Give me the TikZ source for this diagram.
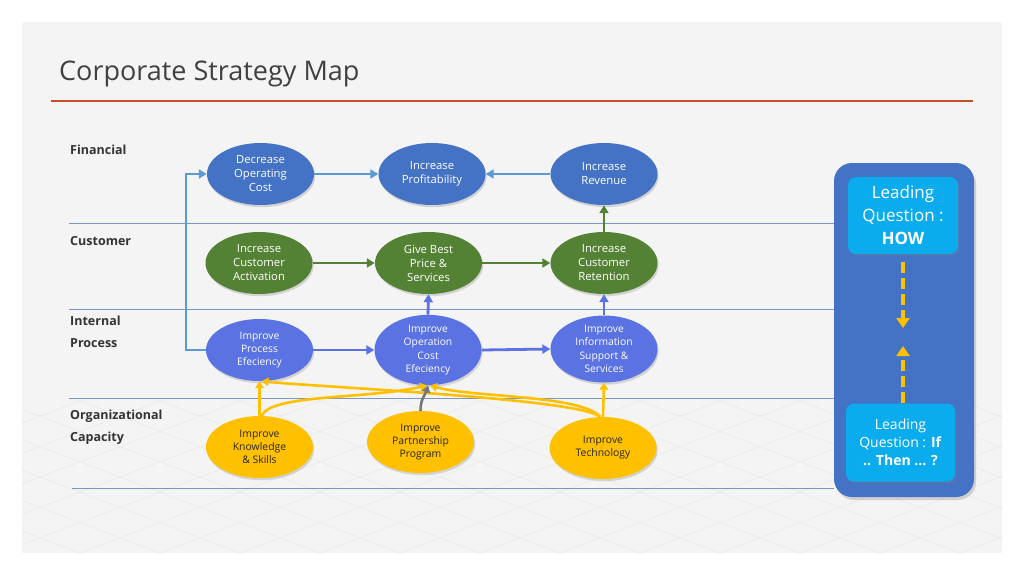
\documentclass[tikz,border=0pt]{standalone}
\usepackage{fontspec}
\setmainfont{Open Sans}
\usetikzlibrary{shapes.geometric,arrows.meta,shadows,calc}
\definecolor{slidebg}{HTML}{F4F4F4}
\definecolor{titlegray}{HTML}{404040}
\definecolor{labelgray}{HTML}{333333}
\definecolor{redline}{RGB}{200,78,42}
\definecolor{sepline}{RGB}{125,150,195}
\definecolor{finblue}{HTML}{4472C4}
\definecolor{finarrow}{HTML}{5B9BD5}
\definecolor{cusgreen}{HTML}{548235}
\definecolor{intblue}{RGB}{90,114,226}
\definecolor{orgyellow}{HTML}{FFC000}
\definecolor{textdark}{HTML}{262626}
\definecolor{grayarrow}{HTML}{767676}
\definecolor{panelblue}{HTML}{4472C4}
\definecolor{qblue}{RGB}{10,172,238}
\begin{document}
\begin{tikzpicture}[x=1pt,y=-1pt,
  ell/.style={ellipse, minimum width=107pt, minimum height=62pt, inner sep=0pt, align=center,
    drop shadow={shadow xshift=1.2pt, shadow yshift=-2.2pt, opacity=0.28}},
  fin/.style={ell, fill=finblue, text=white, font=\fontsize{11.3}{14}\selectfont},
  cus/.style={ell, fill=cusgreen, text=white, font=\fontsize{11.3}{14}\selectfont},
  int/.style={ell, fill=intblue, text=white, font=\fontsize{10.3}{13.3}\selectfont},
  org/.style={ell, fill=orgyellow, text=textdark, font=\fontsize{10.4}{13}\selectfont},
  rowlabel/.style={anchor=base west, inner sep=0pt, text=labelgray, font=\bfseries\fontsize{12.5}{15}\selectfont},
  sep/.style={draw=sepline, line width=0.9pt},
  arrfin/.style={draw=finarrow, line width=2.8pt, -{Triangle[length=8pt,width=9pt]}},
  arrcus/.style={draw=cusgreen, line width=2.8pt, -{Triangle[length=8pt,width=9pt]}},
  arrint/.style={draw=intblue, line width=2.8pt, -{Triangle[length=8pt,width=9pt]}},
  arrorg/.style={draw=orgyellow, line width=2.6pt, -{Triangle[length=7pt,width=8.5pt]}},
  arrgray/.style={draw=grayarrow, line width=2.6pt, -{Triangle[length=7pt,width=8.5pt]}},
  dasharr/.style={draw=orgyellow, line width=4pt, dash pattern=on 11pt off 5pt, -{Triangle[length=10pt,width=13pt]}},
  qbox/.style={rounded corners=8pt, fill=qblue, text=white, align=center, inner sep=0pt,
    drop shadow={shadow xshift=1.5pt, shadow yshift=-2pt, opacity=0.3}},
  gridline/.style={draw=black!8, line width=0.8pt}
]
\useasboundingbox (0,0) rectangle (1024,576);
\fill[white] (0,0) rectangle (1024,576);
\fill[slidebg] (22,22) rectangle (1002,553);

% faint floor grid
\begin{scope}
  \clip (22,400) rectangle (1002,553);
  \foreach \k in {-12,...,26} {
    \draw[gridline] ({\k*80-400},553) -- ++(800,-304);
    \draw[gridline] ({\k*80},553) -- ++(-800,-304);
  }
\end{scope}

% title and rule
\node[anchor=base west, inner sep=0pt, text=titlegray, font=\fontsize{27}{31}\selectfont] (title) at (59,80) {Corporate Strategy Map};
\draw[draw=redline, line width=2pt] (51,101) -- (973,101);

% separators
\draw[sep] (69,223) -- (834,223);
\draw[sep] (69,309) -- (834,309);
\draw[sep] (69,398) -- (834,398);
\draw[sep] (72,488) -- (834,488);

% row labels
\node[rowlabel] (lfin) at (70,154) {Financial};
\node[rowlabel] (lcus) at (70,245) {Customer};
\node[rowlabel] (lint1) at (70,325) {Internal};
\node[rowlabel] (lint2) at (70,347) {Process};
\node[rowlabel] (lorg1) at (70,419) {Organizational};
\node[rowlabel] (lorg2) at (70,441) {Capacity};

% ellipses
\node[fin] (doc) at (260.5,174) {Decrease\\Operating\\Cost};
\node[fin] (ip) at (432,174) {Increase\\Profitability};
\node[fin] (ir) at (604,174) {Increase\\Revenue};
\node[cus] (ica) at (259,263) {Increase\\Customer\\Activation};
\node[cus] (gbp) at (428.5,263) {Give Best\\Price \&\\Services};
\node[cus] (icr) at (604,263) {Increase\\Customer\\Retention};
\node[int] (ipe) at (259.5,350) {Improve\\Process\\Efeciency};
\node[int] (ioc) at (428,350) {Improve\\Operation\\Cost\\Efeciency};
\node[int] (iis) at (604,349) {Improve\\Information\\Support \&\\Services};
\node[org] (iks) at (259.5,447) {Improve\\Knowledge\\\& Skills};
\node[org] (ipp) at (420.5,442) {Improve\\Partnership\\Program};
\node[org] (it) at (603,448) {Improve\\Technology};

% financial arrows
\draw[arrfin] (doc.east) -- (ip.west);
\draw[arrfin] (ir.west) -- (ip.east);
\draw[arrfin] (ipe.west) -- (186,350) -- (186,174) -- (doc.west);

% customer arrows
\draw[arrcus] (ica.east) -- (gbp.west);
\draw[arrcus] (gbp.east) -- (icr.west);
\draw[arrcus] (icr.north) -- (ir.south);

% internal arrows
\draw[arrint] (ipe.east) -- (ioc.west);
\draw[arrint] (ioc.east) -- (iis.west);
\draw[arrint] (ioc.north) -- (gbp.south);
\draw[arrint] (iis.north) -- (icr.south);

% organizational arrows
\draw[arrorg] (iks.north) -- (ipe.south);
\draw[arrorg] ([xshift=2pt]iks.north) .. controls +(10,-22) and +(-60,14) .. ([xshift=-1pt]ioc.south);
\draw[arrorg] ([xshift=-3pt]it.north) .. controls +(-20,-18) and +(60,6) .. ([xshift=2pt]ipe.south);
\draw[arrorg] ([xshift=-3pt]it.north) .. controls +(-18,-22) and +(40,12) .. ([xshift=2pt]ioc.south);
\draw[arrorg] (it.north) -- (iis.south);
\draw[arrgray] (ipp.north) .. controls +(0,-12) and +(-3,10) .. (ioc.south);

% right panel
\fill[panelblue, rounded corners=18pt, drop shadow={shadow xshift=2pt, shadow yshift=-3pt, opacity=0.3}] (834,163) rectangle (974,497);
\node[qbox, minimum width=110pt, minimum height=77pt, font=\fontsize{17}{23}\selectfont] (how) at (903,215.5) {Leading\\Question :\\\textbf{HOW}};
\node[qbox, minimum width=109pt, minimum height=78pt, font=\fontsize{14}{18}\selectfont] (ifq) at (900.5,442.5) {Leading\\Question : \textbf{If}\\\textbf{.. Then ... ?}};
\coordinate (d1) at (903,328);
\coordinate (d2) at (903,346);
\draw[dasharr] (903,262) -- (d1);
\draw[dasharr] ([xshift=2.5pt]ifq.north) -- (d2);
\end{tikzpicture}
\end{document}
